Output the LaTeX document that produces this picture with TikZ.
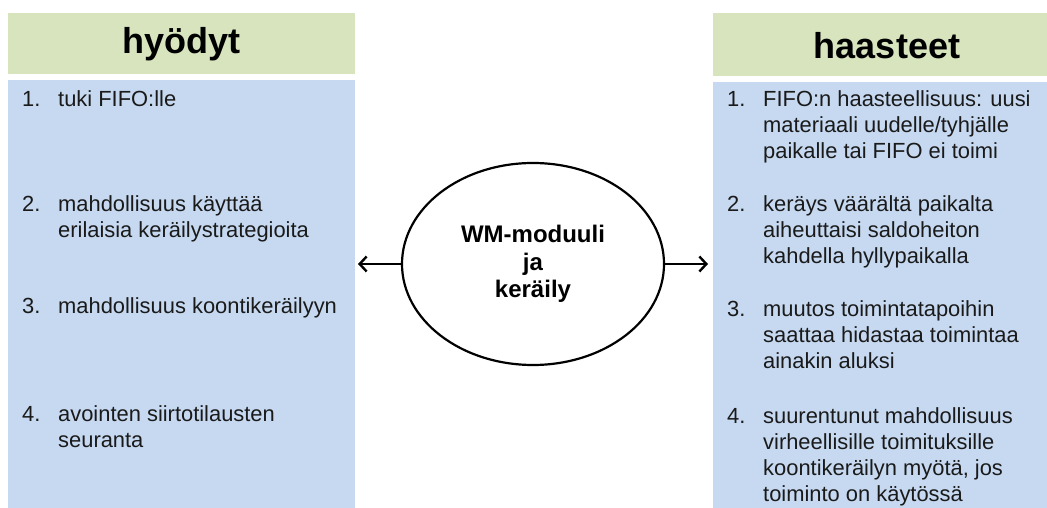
\documentclass[tikz,border=0pt]{standalone}
\usepackage{fontspec}
\setmainfont{Liberation Sans}
\usetikzlibrary{shapes.geometric,arrows.meta}
\definecolor{hdrgreen}{HTML}{D7E4BD}
\definecolor{bodyblue}{HTML}{C6D9F1}
\definecolor{txt}{HTML}{1A1A1A}
\newcommand{\itemline}[2]{\makebox[36pt][l]{#1}\parbox[t]{300pt}{\raggedright #2}}
\tikzset{
  hdr/.style={fill=hdrgreen, draw=none},
  bodybox/.style={fill=bodyblue, draw=none},
  hdrtext/.style={font=\fontsize{36}{40}\selectfont\bfseries, text=black, inner sep=0pt},
  itemtext/.style={font=\fontsize{21.9}{26}\selectfont, text=txt, inner sep=0pt, anchor=base west},
  center/.style={ellipse, draw=black, line width=2.2pt, minimum width=262pt, minimum height=202pt, inner sep=0pt, align=center, font=\fontsize{24}{27.5}\selectfont\bfseries},
  conn/.style={line width=2.4pt, -{Straight Barb[length=7pt,width=15pt,line width=2.4pt]}}
}
\begin{document}
\begin{tikzpicture}[x=1pt,y=1pt]
\useasboundingbox (0,0) rectangle (1047,508);
% left column
\path[hdr] (8,434) rectangle (355,495);
\path[bodybox] (8,0) rectangle (355,428);
\node[hdrtext] (lh) at (181.5,463.5) {hyödyt};
\node[itemtext] (l1) at (22,401) {\itemline{1.}{tuki FIFO:lle}};
\node[itemtext] (l2) at (22,296) {\itemline{2.}{mahdollisuus käyttää\\erilaisia keräilystrategioita}};
\node[itemtext] (l3) at (22,194) {\itemline{3.}{mahdollisuus koontikeräilyyn}};
\node[itemtext] (l4) at (22,86) {\itemline{4.}{avointen siirtotilausten\\seuranta}};
% right column
\path[hdr] (713,432) rectangle (1047,495);
\path[bodybox] (713,0) rectangle (1047,426);
\node[hdrtext] (rh) at (887,462.5) {haasteet};
\node[itemtext] (r1) at (727,401) {\itemline{1.}{FIFO:n haasteellisuus: uusi\\materiaali uudelle/tyhjälle\\paikalle tai FIFO ei toimi}};
\node[itemtext] (r2) at (727,296) {\itemline{2.}{keräys väärältä paikalta\\aiheuttaisi saldoheiton\\kahdella hyllypaikalla}};
\node[itemtext] (r3) at (727,191) {\itemline{3.}{muutos toimintatapoihin\\saattaa hidastaa toimintaa\\ainakin aluksi}};
\node[itemtext] (r4) at (727,84) {\itemline{4.}{suurentunut mahdollisuus\\virheellisille toimituksille\\koontikeräilyn myötä, jos\\toiminto on käytössä}};
% centre
\node[center] (wm) at (533,244) {WM-moduuli\\ja\\keräily};
\coordinate (lend) at (358,244);
\coordinate (rend) at (708,244);
\draw[conn] (wm.west) -- (lend);
\draw[conn] (wm.east) -- (rend);
\end{tikzpicture}
\end{document}
